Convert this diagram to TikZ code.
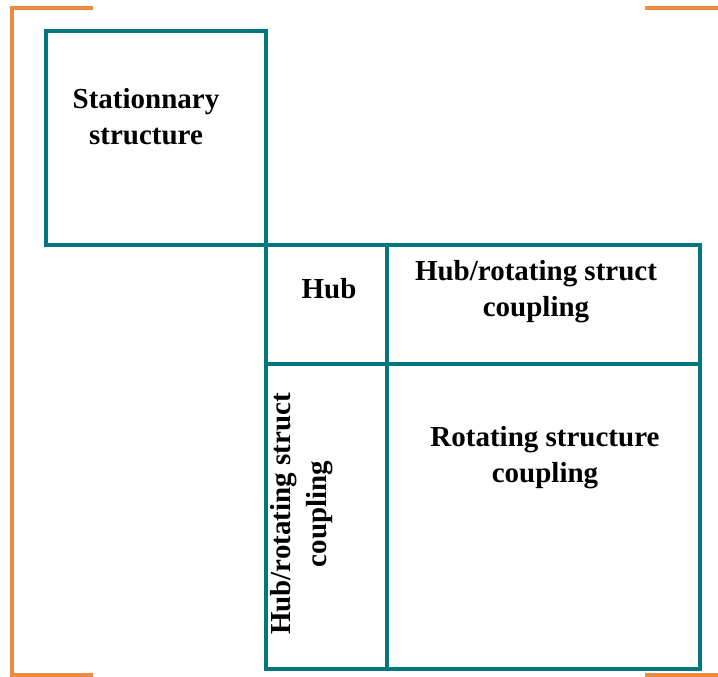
\documentclass[tikz,border=0pt]{standalone}
\usepackage{fontspec}
\setmainfont{Liberation Serif}
\usepackage{tikz}
\definecolor{boxteal}{HTML}{007680}
\definecolor{frameorange}{HTML}{EE8A3E}
\tikzset{cell/.style = {draw=boxteal, line width=3.5pt, rectangle, inner sep=0pt, outer sep=0pt},
    celltext/.style = {align=center, font=\bfseries\fontsize{29}{36}\selectfont, inner sep=0pt}}

\begin{document}
\begin{tikzpicture}[x=1pt, y=-1pt]
                \useasboundingbox (0,0) rectangle (718,677);
                % orange frame corners
                \draw[frameorange, line width=3.5pt] (93,8) -- (12,8) -- (12,675) -- (93,675);
                \draw[frameorange, line width=3.5pt] (645,8) -- (718,8);
                \draw[frameorange, line width=3.5pt] (645,675) -- (718,675);
                % cells
                \node[cell, minimum width=220pt, minimum height=214pt] (stat) at (156,138) {};
                \node[cell, minimum width=121pt, minimum height=119pt] (hub) at (326.5,304.5) {};
                \node[cell, minimum width=313pt, minimum height=119pt] (hubcoupR) at (543.5,304.5) {};
                \node[cell, minimum width=121pt, minimum height=305pt] (hubcoupL) at (326.5,516.5) {};
                \node[cell, minimum width=313pt, minimum height=305pt] (rot) at (543.5,516.5) {};
                % labels
                \node[celltext] (stattext) at (146,117) {Stationnary\\structure};
                \node[celltext] (hubtext) at (329,289) {Hub};
                \node[celltext] (hubcoupRtext) at (536,292) {Hub/rotating struct\\coupling};
                \node[celltext] (rottext) at (545,458) {Rotating structure\\coupling};
                \node[celltext, rotate=90] (hubcoupLtext) at (302,514) {Hub/rotating struct\\coupling};
            \end{tikzpicture}
\end{document}
